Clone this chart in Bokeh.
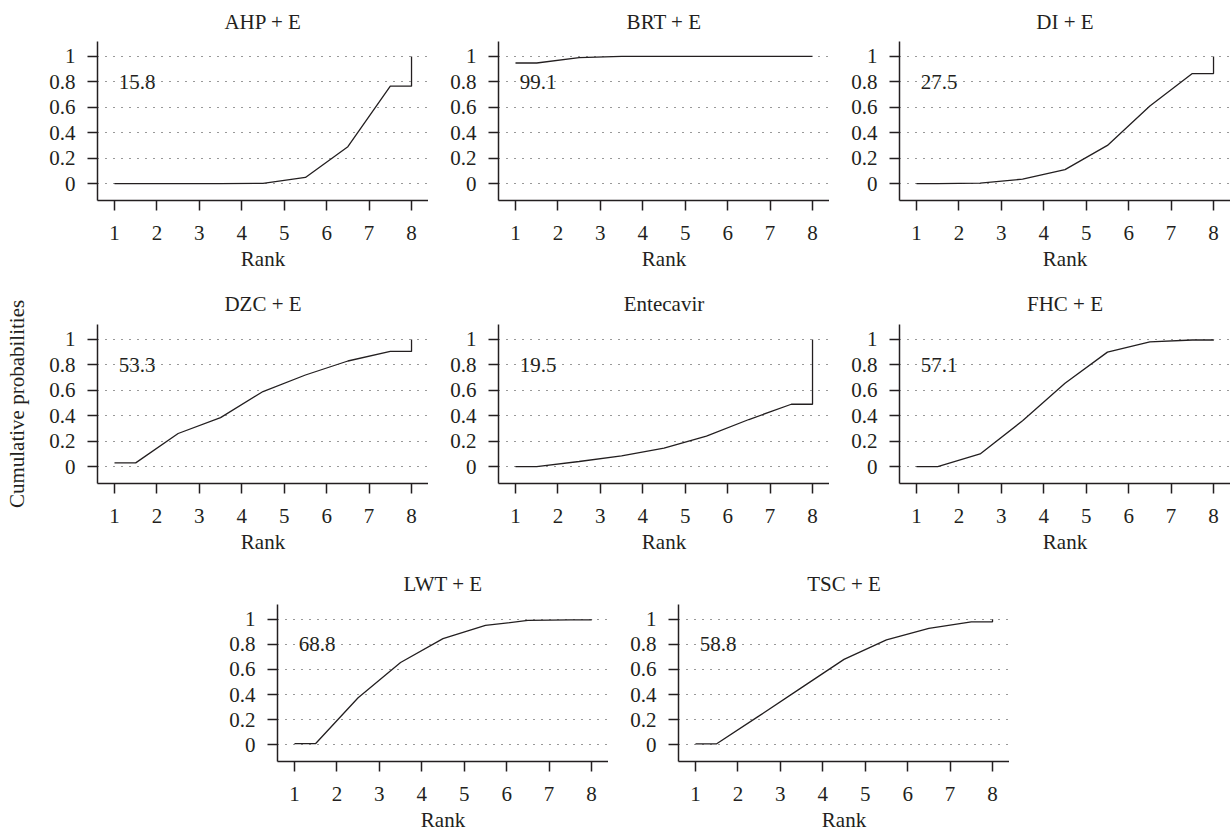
from bokeh.plotting import figure
from bokeh.layouts import column, row, Spacer
from bokeh.models import FixedTicker, Range1d
from bokeh.core.properties import value
from bokeh.embed import file_html
from bokeh.resources import INLINE

# ---- data -------------------------------------------------------------
ranks = [1, 2, 3, 4, 5, 6, 7, 8]
treatments = ["AHP + E", "BRT + E", "DI + E", "DZC + E", "Entecavir",
              "FHC + E", "LWT + E", "TSC + E"]
cum_ahp = [0.0, 0.0, 0.0, 0.002, 0.048, 0.29, 0.766, 1.0]
cum_brt = [0.948, 0.99, 1.0, 1.0, 1.0, 1.0, 1.0, 1.0]
cum_di = [0.0, 0.003, 0.035, 0.11, 0.30, 0.61, 0.865, 1.0]
cum_dzc = [0.029, 0.26, 0.385, 0.59, 0.72, 0.83, 0.905, 1.0]
cum_ent = [0.0, 0.04, 0.085, 0.145, 0.24, 0.37, 0.49, 1.0]
cum_fhc = [0.0, 0.099, 0.36, 0.655, 0.90, 0.98, 0.995, 1.0]
cum_lwt = [0.01, 0.375, 0.655, 0.845, 0.95, 0.99, 0.995, 1.0]
cum_tsc = [0.008, 0.23, 0.455, 0.68, 0.836, 0.927, 0.979, 1.0]
sucra = [15.8, 99.1, 27.5, 53.3, 19.5, 57.1, 68.8, 58.8]
y_ticks = [0, 0.2, 0.4, 0.6, 0.8, 1]
y_tick_labels = ["0", "0.2", "0.4", "0.6", "0.8", "1"]
y_title = "Cumulative probabilities"
x_title = "Rank"

curves = [cum_ahp, cum_brt, cum_di, cum_dzc, cum_ent, cum_fhc, cum_lwt, cum_tsc]

# ---- style ------------------------------------------------------------
FONT = "Liberation Serif"
FS = "21px"
INK = "#231f20"
FRAME_H = 160
PX_PER_RANK = 331 / 7.8


def make_panel(i, left, frame_w, top, bottom, title_gap, ylabel=None):
    cum = curves[i]
    x_end = 0.6 + frame_w / PX_PER_RANK
    p = figure(width=left + frame_w, height=top + FRAME_H + bottom,
               x_range=Range1d(0.6, x_end), y_range=Range1d(-0.133, 1.117),
               output_backend="svg", toolbar_location=None,
               min_border_left=left, min_border_right=0,
               min_border_top=top, min_border_bottom=bottom,
               title=treatments[i])
    p.title.align = "center"
    p.title.text_font = FONT
    p.title.text_font_size = FS
    p.title.text_font_style = "normal"
    p.title.text_color = INK
    p.title.standoff = title_gap
    p.outline_line_color = None
    p.background_fill_color = "white"
    p.border_fill_color = "white"

    # cumulative ranking curve
    xs = [ranks[0]] + [r + 0.5 for r in ranks[:-1]] + [ranks[-1], ranks[-1]]
    ys = [cum[0]] + cum[:-1] + [cum[-2], cum[-1]]
    p.line(xs, ys, line_color=INK, line_width=1.3)

    # SUCRA value
    p.text(x=[1.1], y=[0.8], text=["%.1f" % sucra[i]], text_align="left",
           text_baseline="middle", text_font=value(FONT), text_font_size=FS,
           text_color=INK)

    # axes
    p.xaxis.ticker = FixedTicker(ticks=ranks)
    p.yaxis.ticker = FixedTicker(ticks=y_ticks)
    p.yaxis.major_label_overrides = {t: s for t, s in zip(y_ticks, y_tick_labels)}
    p.xaxis.axis_label = x_title
    for ax in (p.xaxis, p.yaxis):
        ax.axis_line_color = INK
        ax.axis_line_width = 1.5
        ax.major_tick_line_color = INK
        ax.major_tick_line_width = 1.5
        ax.major_tick_out = 10
        ax.major_tick_in = 0
        ax.minor_tick_line_color = None
        ax.major_label_text_font = FONT
        ax.major_label_text_font_size = FS
        ax.major_label_text_color = INK
        ax.axis_label_text_font = FONT
        ax.axis_label_text_font_size = FS
        ax.axis_label_text_font_style = "normal"
        ax.axis_label_text_color = INK
    p.xaxis.major_label_standoff = 15
    p.xaxis.axis_label_standoff = 4
    p.yaxis.major_label_standoff = 12
    p.yaxis.major_label_orientation = "horizontal"
    if ylabel:
        p.yaxis.axis_label = ylabel
        p.yaxis.axis_label_standoff = 17

    p.xgrid.visible = False
    p.ygrid.ticker = FixedTicker(ticks=y_ticks)
    p.ygrid.grid_line_color = "#333333"
    p.ygrid.grid_line_width = 1.2
    p.ygrid.grid_line_dash = "1 7"
    return p


# row 1
p1 = make_panel(0, 97, 331, 40, 80, 15)
p2 = make_panel(1, 70, 331, 40, 80, 15)
p3 = make_panel(2, 70, 331, 40, 80, 15)
# row 2
p4 = make_panel(3, 97, 331, 43, 77, 18, ylabel=y_title)
p5 = make_panel(4, 70, 331, 43, 77, 18)
p6 = make_panel(5, 70, 331, 43, 77, 18)
# row 3
p7 = make_panel(6, 70, 331, 43, 71, 18)
p8 = make_panel(7, 70, 331, 43, 71, 18)

layout = column(
    row(p1, p2, p3),
    row(p4, p5, p6),
    row(Spacer(width=207, height=274), p7, p8),
)

open("out.html", "w").write(file_html(layout, INLINE))
